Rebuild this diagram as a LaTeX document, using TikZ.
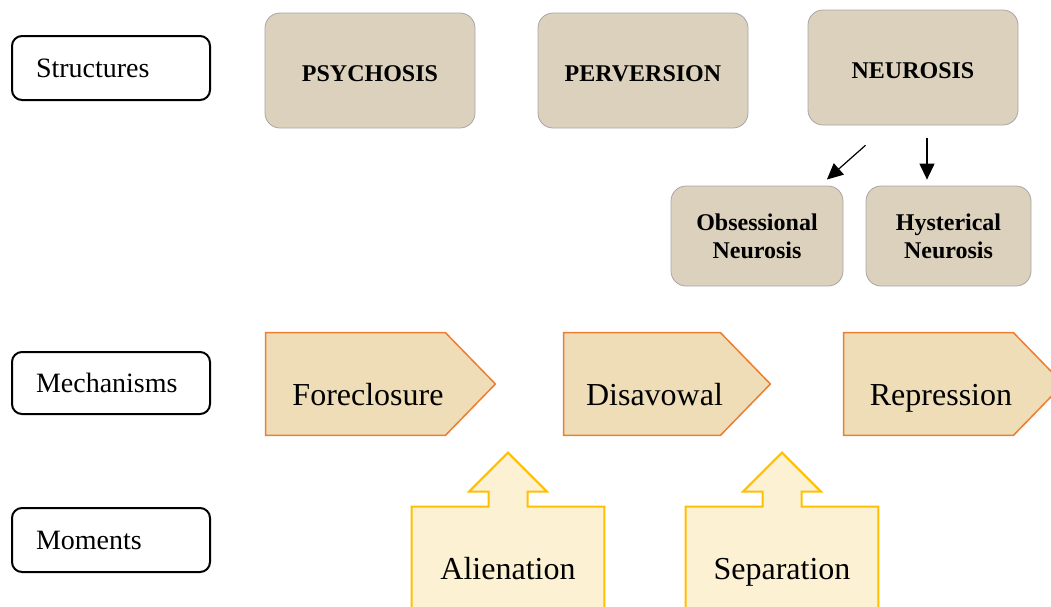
\documentclass[tikz,border=0pt]{standalone}
\usepackage{fontspec}
\setmainfont{Liberation Serif}
\usetikzlibrary{arrows.meta,backgrounds}

\definecolor{burlap}{HTML}{DBD1BD}
\definecolor{burlapedge}{HTML}{A6A6A6}
\definecolor{parchment}{HTML}{EEDDB7}
\definecolor{mechedge}{HTML}{ED7D31}
\definecolor{cream}{HTML}{FDF1D3}
\definecolor{momedge}{HTML}{FFC000}

\begin{document}
\begin{tikzpicture}[
    x=0.5pt, y=-0.5pt,
    levelbox/.style={draw, line width=1pt, rounded corners=5pt, fill=white, text width=75pt, inner xsep=12pt, align=left, minimum height=32pt, font=\fontsize{14}{17}\selectfont},
    structbox/.style={draw=burlapedge, fill=burlap, rounded corners=7.5pt, minimum width=105pt, minimum height=57.5pt, align=center, font=\bfseries\fontsize{12}{14}\selectfont},
    topbox/.style={structbox, text height=11pt, text depth=0pt},
    subbox/.style={structbox, minimum width=86pt, minimum height=50pt},
    mechbox/.style={minimum height=51pt, inner sep=0pt, text height=21pt, text depth=0pt, font=\fontsize{16}{19}\selectfont},
    mechshape/.style={draw=mechedge, fill=parchment, line width=0.75pt},
    momentbox/.style={minimum width=96pt, minimum height=63pt, inner sep=0pt, text height=11pt, text depth=2pt, font=\fontsize{16}{19}\selectfont},
    momentshape/.style={draw=momedge, fill=cream, line width=1pt},
    arr/.style={-{Triangle[length=8pt, width=7.5pt]}, line width=0.6pt}
]
\useasboundingbox (0,0) rectangle (1051,606);

% left column
\node[levelbox] (structures) at (111,68) {Structures};
\node[levelbox, minimum height=31pt] (mechanisms) at (111,383) {Mechanisms};
\node[levelbox] (moments) at (111,540) {Moments};

% structures
\node[topbox] (psychosis) at (370,70.5) {PSYCHOSIS};
\node[topbox] (perversion) at (643,70.5) {PERVERSION};
\node[topbox] (neurosis) at (913,67.5) {NEUROSIS};
\node[subbox] (obsessional) at (757,236) {Obsessional\\Neurosis};
\node[subbox, minimum width=82.5pt] (hysterical) at (948.5,236) {Hysterical\\Neurosis};

\draw[arr, shorten <=15pt, shorten >=4.6pt] ([xshift=-12.5pt]neurosis.south) -- ([xshift=31.5pt]obsessional.north);
\draw[arr, shorten <=6.5pt, shorten >=3pt] ([xshift=7pt]neurosis.south) -- ([xshift=7pt]neurosis.south |- hysterical.north);

% mechanisms
\node[mechbox, minimum width=102pt] (foreclosure) at (368,384) {Foreclosure};
\node[mechbox, minimum width=90.5pt] (disavowal) at (654.5,384) {Disavowal};
\node[mechbox, minimum width=97pt] (repression) at (941,384) {Repression};

% moments
\node[momentbox] (alienation) at (508,570) {Alienation};
\node[momentbox] (separation) at (782,570) {Separation};

\begin{pgfonlayer}{background}
\foreach \m in {foreclosure,disavowal,repression}
  \draw[mechshape] (\m.north west) -- ([xshift=-12.5pt]\m.north east) -- ([xshift=12.5pt]\m.east)
    -- ([xshift=-12.5pt]\m.south east) -- (\m.south west) -- cycle;
\foreach \m in {alienation,separation}
  \draw[momentshape] (\m.north west) -- ([xshift=-9.75pt]\m.north) -- ([xshift=-9.75pt,yshift=7.5pt]\m.north)
    -- ([xshift=-19.5pt,yshift=7.5pt]\m.north) -- ([yshift=27pt]\m.north)
    -- ([xshift=19.5pt,yshift=7.5pt]\m.north) -- ([xshift=9.75pt,yshift=7.5pt]\m.north)
    -- ([xshift=9.75pt]\m.north) -- (\m.north east) -- (\m.south east) -- (\m.south west) -- cycle;
\end{pgfonlayer}
\end{tikzpicture}
\end{document}
